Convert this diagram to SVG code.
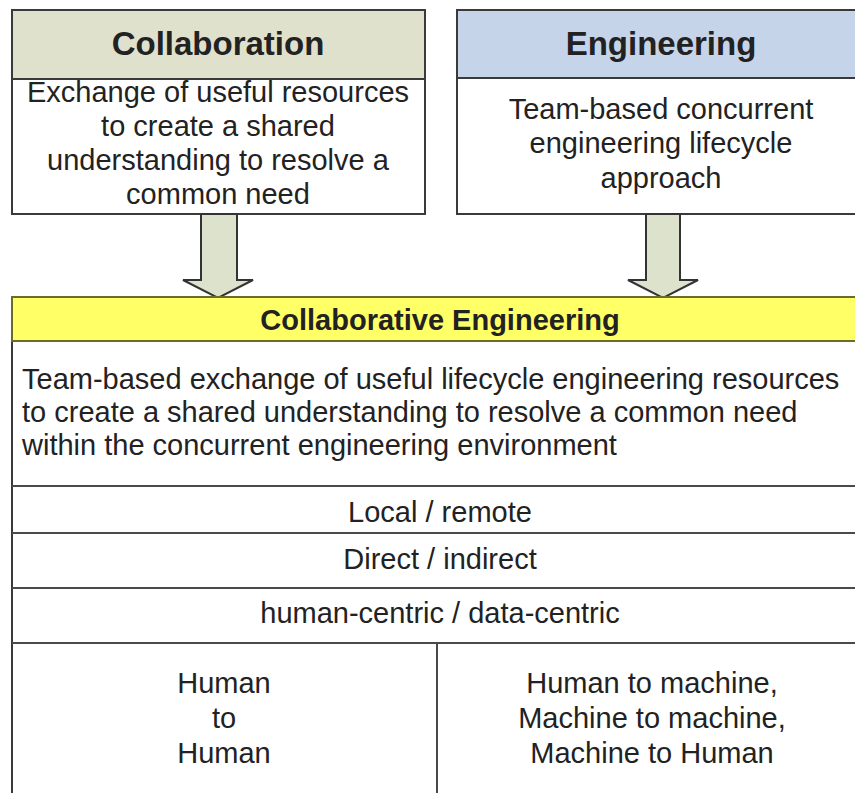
<svg xmlns="http://www.w3.org/2000/svg" width="855" height="793" viewBox="0 0 855 793">
<style>
  .box { fill: #ffffff; stroke: #3a3a3a; stroke-width: 2; }
  .hdr1 { fill: #dfe1cd; stroke: #3a3a3a; stroke-width: 2; }
  .hdr2 { fill: #c6d4ea; stroke: #3a3a3a; stroke-width: 2; }
  .hdr3 { fill: #ffff66; stroke: #6b6b2a; stroke-width: 2; }
  .sep { stroke: #4a4a4a; stroke-width: 2; fill: none; }
  .arrow { fill: #dde2cc; stroke: #333333; stroke-width: 2; stroke-linejoin: miter; }
  text { font-family: "Liberation Sans", Arial, sans-serif; fill: #222222; text-anchor: middle; }
  .t { font-size: 29px; }
  .h { font-size: 33px; font-weight: bold; }
  .hb { font-size: 29px; font-weight: bold; }
  .left { text-anchor: start; }
</style>

<g id="collaboration">
  <rect class="box" x="12" y="10" width="413" height="204"/>
  <rect class="hdr1" x="12" y="10" width="413" height="69"/>
  <text class="h" x="218" y="55">Collaboration</text>
  <text class="t" x="218" y="102">Exchange of useful resources</text>
  <text class="t" x="218" y="136">to create a shared</text>
  <text class="t" x="218" y="170">understanding to resolve a</text>
  <text class="t" x="218" y="204">common need</text>
</g>

<g id="engineering">
  <rect class="box" x="457" y="10" width="410" height="204"/>
  <rect class="hdr2" x="457" y="10" width="410" height="68"/>
  <text class="h" x="661" y="55">Engineering</text>
  <text class="t" x="661" y="119">Team-based concurrent</text>
  <text class="t" x="661" y="153">engineering lifecycle</text>
  <text class="t" x="661" y="188">approach</text>
</g>

<g id="connectors">
  <polygon class="arrow" points="201,214 237,214 237,280 253,280 218,298 183,280 201,280"/>
  <polygon class="arrow" points="646,214 680,214 680,280 698,280 663,298 628,280 646,280"/>
</g>

<g id="collaborative-engineering">
  <rect class="box" x="12" y="297" width="858" height="510"/>
  <rect class="hdr3" x="12" y="297" width="858" height="44"/>
  <text class="hb" x="440" y="330">Collaborative Engineering</text>
  <text class="t left" x="22" y="389">Team-based exchange of useful lifecycle engineering resources</text>
  <text class="t left" x="22" y="422">to create a shared understanding to resolve a common need</text>
  <text class="t left" x="22" y="455">within the concurrent engineering environment</text>
</g>

<g id="local-remote">
  <line class="sep" x1="12" y1="486" x2="870" y2="486"/>
  <text class="t" x="440" y="522">Local / remote</text>
</g>

<g id="direct-indirect">
  <line class="sep" x1="12" y1="533" x2="870" y2="533"/>
  <text class="t" x="440" y="569">Direct / indirect</text>
</g>

<g id="human-data-centric">
  <line class="sep" x1="12" y1="588" x2="870" y2="588"/>
  <text class="t" x="440" y="623">human-centric / data-centric</text>
</g>

<g id="human-to-human">
  <line class="sep" x1="12" y1="643" x2="870" y2="643"/>
  <text class="t" x="224" y="693">Human</text>
  <text class="t" x="224" y="728">to</text>
  <text class="t" x="224" y="763">Human</text>
</g>

<g id="machine-interaction">
  <line class="sep" x1="437" y1="643" x2="437" y2="793"/>
  <text class="t" x="652" y="693">Human to machine,</text>
  <text class="t" x="652" y="728">Machine to machine,</text>
  <text class="t" x="652" y="763">Machine to Human</text>
</g>
</svg>
